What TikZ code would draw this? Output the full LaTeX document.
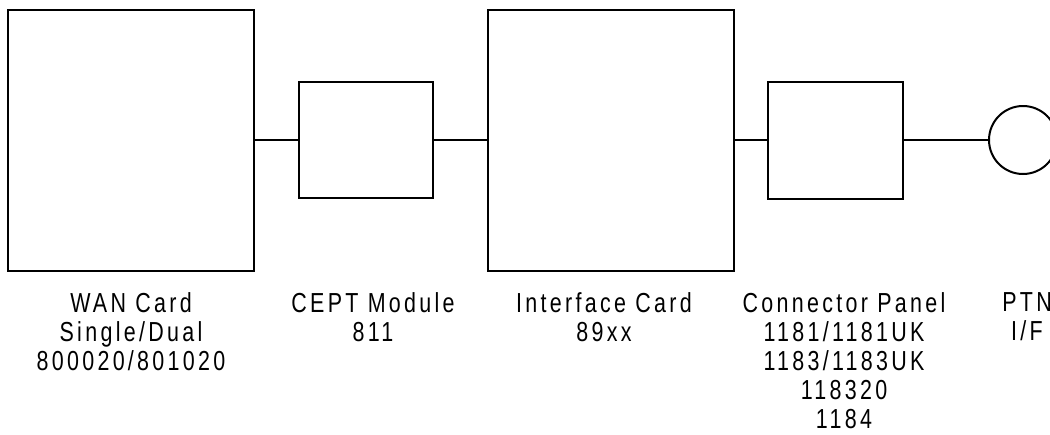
\documentclass[tikz,border=0pt]{standalone}
\usepackage{fontspec}
\setmainfont{Liberation Sans}[FakeStretch=0.78, LetterSpace=12]
\begin{document}
\begin{tikzpicture}[x=1pt,y=-1pt,
  blk/.style={draw=black,line width=2pt,fill=white,inner sep=0pt},
  wire/.style={draw=black,line width=2pt},
  lbl/.style={anchor=north,align=center,inner sep=0pt,font=\fontsize{27.5}{29}\selectfont}]
\useasboundingbox (0,0) rectangle (1050,434);
\path[fill=white] (0,0) rectangle (1050,434);
% boxes
\node[blk,minimum width=246pt,minimum height=261pt] (wan) at (131,140) {};
\node[blk,minimum width=134pt,minimum height=116pt] (cept) at (366,140) {};
\node[blk,minimum width=246pt,minimum height=261pt] (intf) at (611,140) {};
\node[blk,minimum width=135pt,minimum height=117pt] (conn) at (835.5,140) {};
\node[draw=black,line width=2pt,circle,inner sep=0pt,minimum size=68pt] (ptn) at (1023,140) {};
% wires
\draw[wire] (wan.east) -- (cept.west);
\draw[wire] (cept.east) -- (intf.west);
\draw[wire] (intf.east) -- (conn.west);
\draw[wire] (conn.east) -- (ptn.west);
% labels
\node[lbl] (lwan) at (131,292) {WAN Card\\Single/Dual\\800020/801020};
\node[lbl] (lcept) at (373,292) {CEPT Module\\811};
\node[lbl] (lintf) at (604,292) {Interface Card\\89xx};
\node[lbl] (lconn) at (844,292) {Connector Panel\\1181/1181UK\\1183/1183UK\\118320\\1184};
\node[lbl] (lptn) at (1027,292) {PTN\\I/F};
\end{tikzpicture}
\end{document}
